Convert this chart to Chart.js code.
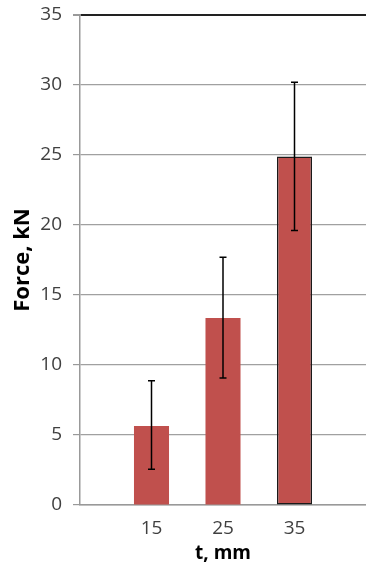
<!DOCTYPE html>
<html>
<head>
<meta charset="utf-8">
<script src="https://cdn.jsdelivr.net/npm/chart.js@4/dist/chart.umd.min.js"></script>
<style>
  html, body { margin: 0; padding: 0; background: #fff; overflow: hidden; }
  #wrap { width: 366px; height: 565px; overflow: hidden; }
</style>
</head>
<body>
<div id="wrap"><canvas id="c" width="366" height="565"></canvas></div>
<script>
// Plate thickness categories (empty slots keep the axis ends open)
const categories = ['', '15', '25', '35', ''];
// Mean force, kN
const force = [null, 5.65, 13.36, 24.9, null];
// Error bar limits, kN
const errLow = [null, 2.55, 9.07, 19.6, null];
const errHigh = [null, 8.88, 17.7, 30.2, null];
// Y axis ticks
const yTicks = [0, 5, 10, 15, 20, 25, 30, 35];

const errorBars = {
  id: 'errorBars',
  afterDatasetsDraw(chart) {
    const { ctx, scales: { x, y } } = chart;
    ctx.save();
    ctx.strokeStyle = '#000';
    ctx.lineWidth = 1.5;
    force.forEach((v, i) => {
      if (v === null) return;
      const px = x.getPixelForValue(i);
      const top = y.getPixelForValue(errHigh[i]);
      const bot = y.getPixelForValue(errLow[i]);
      ctx.beginPath();
      ctx.moveTo(px, top); ctx.lineTo(px, bot);
      ctx.moveTo(px - 3.5, top); ctx.lineTo(px + 3.5, top);
      ctx.moveTo(px - 3.5, bot); ctx.lineTo(px + 3.5, bot);
      ctx.stroke();
    });
    ctx.restore();
  }
};

new Chart(document.getElementById('c'), {
  type: 'bar',
  data: {
    labels: categories,
    datasets: [{
      data: force,
      backgroundColor: '#C0504D',
      borderColor: ['#C0504D', '#C0504D', '#C0504D', '#1a1a1a', '#C0504D'],
      borderWidth: [0, 0, 0, 1.5, 0],
      borderSkipped: false,
      barPercentage: 0.49,
      categoryPercentage: 1
    }]
  },
  options: {
    responsive: false,
    animation: false,
    devicePixelRatio: 1,
    layout: { padding: 0 },
    plugins: { legend: { display: false }, tooltip: { enabled: false } },
    scales: {
      x: {
        type: 'category',
        offset: false,
        grid: { display: false, drawTicks: false },
        border: { display: true, color: '#999', width: 1.5 },
        ticks: {
          font: { family: 'Open Sans', size: 19 },
          color: '#404040',
          padding: 12,
          autoSkip: false,
          maxRotation: 0
        },
        title: {
          display: true,
          text: 't, mm',
          font: { family: 'Open Sans', size: 19, weight: 'bold' },
          color: '#000',
          padding: { top: 0, bottom: 0 }
        },
        afterFit(s) {
          s.height = 60;
          s.paddingLeft = 0;
          s.paddingRight = 0;
        }
      },
      y: {
        min: 0,
        max: 35,
        afterBuildTicks(s) { s.ticks = yTicks.map(v => ({ value: v })); },
        grid: {
          color: c => (c.tick && c.tick.value === 35) ? '#222' : '#a0a0a0',
          lineWidth: c => (c.tick && c.tick.value === 35) ? 2 : 1.2,
          tickColor: '#999',
          tickLength: 7,
          drawTicks: true
        },
        border: { display: true, color: '#999', width: 1.5 },
        ticks: {
          font: { family: 'Open Sans', size: 19 },
          color: '#404040',
          padding: 11
        },
        title: {
          display: true,
          text: 'Force, kN',
          font: { family: 'Open Sans', size: 22, weight: 'bold' },
          color: '#000',
          padding: { top: 10, bottom: 0 }
        },
        afterFit(s) {
          s.width = 80;
          s.paddingTop = 15;
          s.paddingBottom = 0;
          s.paddingLeft = 0;
          s.paddingRight = 0;
        }
      }
    }
  },
  plugins: [errorBars]
});
</script>
</body>
</html>
